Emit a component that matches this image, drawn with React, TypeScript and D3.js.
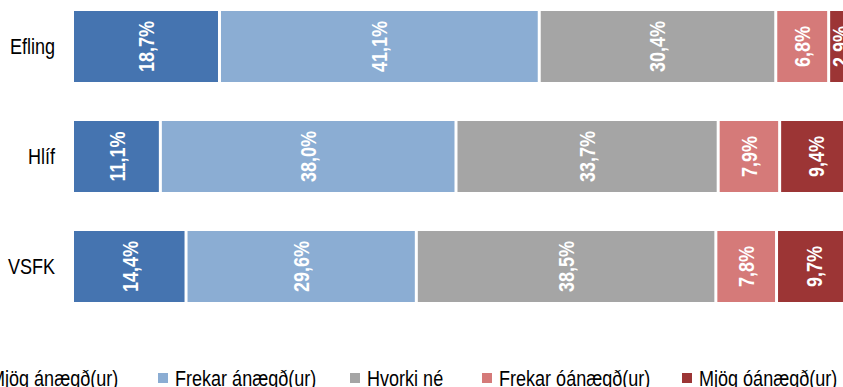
import * as d3 from "d3";

const categories = ["Efling", "Hlíf", "VSFK"];
const seriesNames = [
  "Mjög ánægð(ur)",
  "Frekar ánægð(ur)",
  "Hvorki né",
  "Frekar óánægð(ur)",
  "Mjög óánægð(ur)",
];
const seriesColors = ["#4574b0", "#8badd3", "#a5a5a5", "#d57a79", "#9c3535"];

// percentages per category, in series order
const efling = [18.7, 41.1, 30.4, 6.8, 2.9];
const hlif = [11.1, 38.0, 33.7, 7.9, 9.4];
const vsfk = [14.4, 29.6, 38.5, 7.8, 9.7];
const values = [efling, hlif, vsfk];

const W = 843;
const H = 387;
const legendX = [-27, 158, 350, 482, 682];
// no narrow font installed: squeeze Liberation Sans horizontally instead
const narrow = 0.82;

export default function App() {
  const x = d3.scaleLinear().domain([0, 100]).range([74, 852]);
  const y = d3
    .scaleBand()
    .domain(categories)
    .range([11, 302])
    .paddingInner(39 / 110)
    .paddingOuter(0);

  const stack = values.map((row) => {
    let acc = 0;
    return row.map((v) => {
      const start = acc;
      acc += v;
      return { start, end: acc, v };
    });
  });

  const fmt = (v: number) => v.toFixed(1).replace(".", ",") + "%";

  return (
    <svg
      width={W}
      height={H}
      style={{ position: "absolute", left: 0, top: 0, fontFamily: "'Liberation Sans', Arial, sans-serif" }}
    >
      <rect width={W} height={H} fill="#fff" />
      {categories.map((c, ci) => {
        const y0 = y(c)!;
        const bh = y.bandwidth();
        return (
          <g key={c}>
            <text
              transform={`translate(55,${y0 + bh / 2}) scale(${narrow},1)`}
              textAnchor="end"
              dominantBaseline="central"
              fontSize={22}
              fill="#000"
            >
              {c}
            </text>
            {stack[ci].map((s, si) => {
              const x0 = x(s.start) + (si === 0 ? 0 : 1.5);
              const x1 = x(s.end) - 1.5;
              const cx = (x(s.start) + x(s.end)) / 2;
              const cy = y0 + bh / 2;
              return (
                <g key={si}>
                  <rect x={x0} y={y0} width={x1 - x0} height={bh} fill={seriesColors[si]} />
                  <text
                    transform={`translate(${cx},${cy}) rotate(-90) scale(${narrow},1)`}
                    textAnchor="middle"
                    dominantBaseline="central"
                    fontSize={22}
                    fontWeight="bold"
                    fill="#fff"
                  >
                    {fmt(s.v)}
                  </text>
                </g>
              );
            })}
          </g>
        );
      })}
      {seriesNames.map((n, i) => (
        <g key={n} transform={`translate(${legendX[i]},0)`}>
          <rect x={0} y={373} width={10} height={10} fill={seriesColors[i]} />
          <text
            transform={`translate(17,385.5) scale(${narrow},1)`}
            fontSize={22}
            fill="#000"
          >
            {n}
          </text>
        </g>
      ))}
    </svg>
  );
}
